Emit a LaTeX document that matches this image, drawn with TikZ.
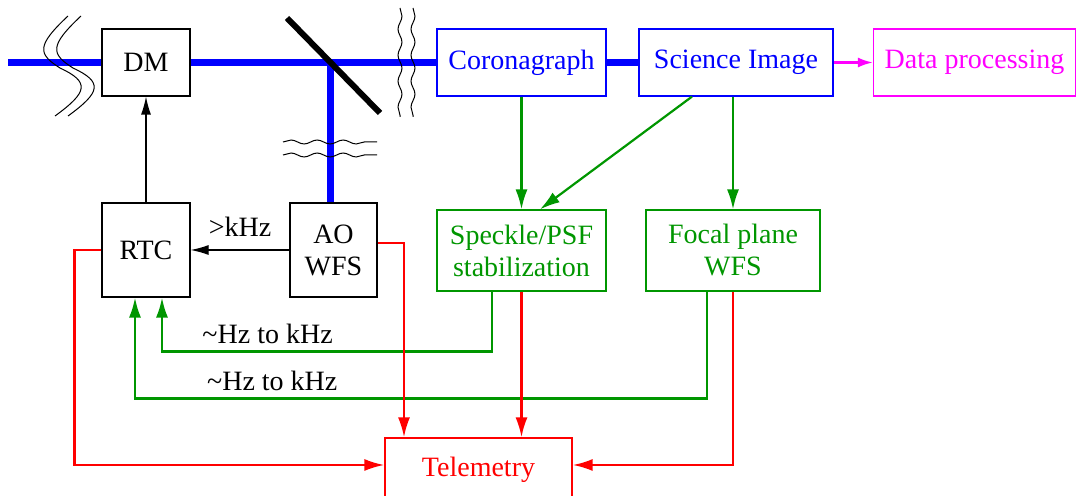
\documentclass[tikz,border=0pt]{standalone}
\usepackage{fontspec}
\setmainfont{Liberation Serif}
\usetikzlibrary{arrows.meta,decorations.pathmorphing}
\definecolor{fbgreen}{RGB}{0,150,0}
\definecolor{dpmagenta}{RGB}{255,0,255}

\begin{document}
\begin{tikzpicture}[x=0.5pt, y=-0.5pt, font=\fontsize{14}{16}\selectfont,
  box/.style = {draw, line width=0.6pt, inner sep=0pt, align=center},
  beam/.style = {blue, line width=3.5pt},
  wave/.style = {line width=0.5pt, decorate, decoration={snake, amplitude=1pt, segment length=13pt}},
  ctl/.style = {-{Latex[length=9pt,width=5pt]}, line width=0.6pt},
  fb/.style = {-{Latex[length=10pt,width=6pt]}, fbgreen, line width=1.1pt},
  tel/.style = {-{Latex[length=10pt,width=6pt]}, red, line width=1.2pt}]
  \useasboundingbox (0,0) rectangle (1078,496);
  \clip (0,0) rectangle (1078,496);

  % optical train
  \node[box, minimum width=44pt, minimum height=33.5pt] (dm) at (146,62.5) {DM};
  \node[box, blue, minimum width=84.5pt, minimum height=33.5pt] (corona) at (521.5,62.5) {Coronagraph};
  \node[box, blue, minimum width=97pt, minimum height=33.5pt] (sci) at (736,62.5) {Science Image};
  \node[box, dpmagenta, minimum width=101pt, minimum height=33.5pt] (data) at (974.5,62.5) {Data processing};

  % control and sensing
  \node[box, minimum width=44pt, minimum height=47pt] (rtc) at (146,250) {RTC};
  \node[box, minimum width=43.5pt, minimum height=47pt] (aowfs) at (333.5,250) {AO\\WFS};
  \node[box, fbgreen, minimum width=84.5pt, minimum height=40.5pt] (speckle) at (521.5,250.5) {Speckle/PSF\\stabilization};
  \node[box, fbgreen, minimum width=87pt, minimum height=40.5pt] (fpwfs) at (733,250.5) {Focal plane\\WFS};
  \node[box, red, minimum width=93.5pt, minimum height=32pt] (telem) at (478.5,470) {Telemetry};

  \coordinate (src) at (8,62.5);
  \coordinate (bs) at (330,62.5);

  \draw[beam] (src) -- (dm.west);
  \draw[beam] (dm.east) -- (corona.west);
  \draw[beam] (corona.east) -- (sci.west);
  \draw[beam] (bs) -- (bs |- aowfs.north);
  \draw[line width=3pt] (287,18) -- (380,113);

  % breaks in the beam
  \foreach \dx in {0,13}
    \draw[line width=0.5pt, shift={(\dx,0)}] (68,16) .. controls (36,46) and (38,54) .. (60,68)
      .. controls (90,82) and (88,92) .. (55,116);
  \foreach \x in {400,413}
    \draw[wave] (\x,8) -- (\x,117);
  \foreach \y in {142,155}
    \draw[wave] (283,\y) -- (377,\y);

  \draw[-{Latex[length=7.5pt,width=5pt]}, dpmagenta, line width=1.1pt] (sci) -- (data);
  \draw[ctl] (rtc) -- (dm);
  \draw[ctl] (aowfs) -- node[above=3pt]{>kHz} (rtc);

  \draw[fb] (corona) -- (speckle);
  \draw[fb] ([xshift=-22pt]sci.south) -- ([xshift=9.25pt]speckle.north);
  \draw[fb] (fpwfs.north |- sci.south) -- (fpwfs.north);
  \draw[fb] ([xshift=-14.75pt]speckle.south) -- ++(0,60)
    -| node[pos=0.34, above, text=black]{\textasciitilde Hz to kHz} ([xshift=8pt]rtc.south);
  \draw[fb] ([xshift=-13pt]fpwfs.south) -- ++(0,107)
    -| node[pos=0.38, above, text=black]{\textasciitilde Hz to kHz} ([xshift=-5.5pt]rtc.south);

  \draw[tel] (rtc.west) -- ++(-27,0) |- ([yshift=2.5pt]telem.west);
  \draw[tel] ([yshift=3.5pt]aowfs.east) -| ([xshift=-37.25pt]telem.north);
  \draw[tel] (speckle.south) -- (speckle.south |- telem.north);
  \draw[tel] (fpwfs.south) |- ([yshift=2.5pt]telem.east);
\end{tikzpicture}
\end{document}
